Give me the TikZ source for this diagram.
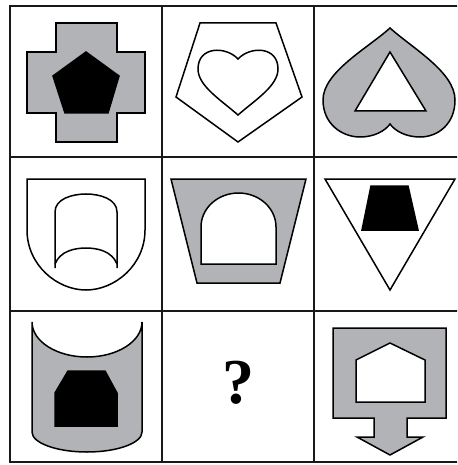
\documentclass[tikz,border=0pt]{standalone}
\usepackage{fontspec}
\newfontfamily\qfont{Liberation Serif}
\usetikzlibrary{calc}
\definecolor{shapegray}{RGB}{178,179,183}
\tikzset{
  gridline/.style={line width=2pt, draw=black!90},
  outl/.style={line width=1.5pt, draw=black, line join=miter},
  grayshape/.style={outl, fill=shapegray},
  whiteshape/.style={outl, fill=white},
  blackshape/.style={outl, fill=black},
}
\begin{document}
\begin{tikzpicture}[x=1pt, y=-1pt]
\useasboundingbox (0,0) rectangle (457,465);
\clip (0,0) rectangle (457,465);
\fill[white] (0,0) rectangle (457,465);
% grid
\draw[gridline] (10,6) rectangle (466,462);
\draw[gridline] (162,6) -- (162,462);
\draw[gridline] (314,6) -- (314,462);
\draw[gridline] (10,157) -- (466,157);
\draw[gridline] (10,311) -- (466,311);
% cell 1: cross with pentagon
\draw[grayshape] (56,23) -- (117,23) -- (117,52) -- (145,52) -- (145,113) -- (117,113) -- (117,142) -- (56,142) -- (56,113) -- (27,113) -- (27,52) -- (56,52) -- cycle;
\draw[blackshape] (86,52) -- (119,76) -- (108,113) -- (65,113) -- (53,76) -- cycle;
% cell 2: pentagon with heart
\draw[whiteshape] (200,23) -- (276,23) -- (302,97) -- (238,142) -- (176,97) -- cycle;
\draw[whiteshape] (238,59) .. controls (250,46) and (278,46) .. (278,69) .. controls (278,86) and (255,100) .. (238,115) .. controls (221,100) and (198,86) .. (198,69) .. controls (198,46) and (226,46) .. (238,59) -- cycle;
% cell 3: inverted heart with triangle
\draw[grayshape] (390,28) .. controls (368,48) and (323,72) .. (323,100) .. controls (323,124) and (342,137) .. (360,137) .. controls (374,137) and (385,131) .. (390,124) .. controls (395,131) and (406,137) .. (420,137) .. controls (438,137) and (455,124) .. (455,100) .. controls (455,72) and (412,48) .. (390,28) -- cycle;
\draw[whiteshape] (390,52) -- (426,111) -- (355,111) -- cycle;
% cell 4: shield with scroll
\draw[whiteshape] (27,179) -- (145,179) -- (145,230) .. controls (145,265) and (115,290) .. (86,290) .. controls (57,290) and (27,265) .. (27,230) -- cycle;
\draw[outl] (55,268) -- (55,212) .. controls (55,199) and (72,194) .. (86,194) .. controls (100,194) and (117,199) .. (117,212) -- (117,268);
\draw[outl] (55,264) .. controls (60,251) and (75,248) .. (86,248) .. controls (97,248) and (112,251) .. (117,264);
% cell 5: trapezoid with arch
\draw[grayshape] (171,179) -- (306,179) -- (280,283) -- (197,283) -- cycle;
\draw[whiteshape] (201,264) -- (201,227) .. controls (201,208.2) and (217.8,193) .. (238.5,193) .. controls (259.2,193) and (276,208.2) .. (276,227) -- (276,264) -- cycle;
% cell 6: inverted triangle with trapezoid
\draw[whiteshape] (325,179) -- (455,179) -- (390,290) -- cycle;
\draw[blackshape] (371,186) -- (408,186) -- (418,230) -- (362,230) -- cycle;
% cell 7: cylinder with hexagon
\draw[grayshape] (32,322) .. controls (32,341.3) and (56.6,357) .. (87,357) .. controls (117.4,357) and (142,341.3) .. (142,322) -- (142,432) .. controls (142,443) and (117.4,452) .. (87,452) .. controls (56.6,452) and (32,443) .. (32,432) -- cycle;
\draw[blackshape] (68,371) -- (105,371) -- (117,393) -- (117,426) -- (55,426) -- (55,393) -- cycle;
% cell 8: question mark
\node[font=\qfont\fontsize{64}{64}\selectfont\bfseries] (q) at (238,383) {?};
% cell 9: box with arrow and house
\draw[grayshape] (333,328) -- (446,328) -- (446,418) -- (407,418) -- (407,437) -- (423,437) -- (390,455) -- (357,437) -- (374,437) -- (374,418) -- (333,418) -- cycle;
\draw[whiteshape] (356,402) -- (356,360) -- (390,343) -- (425,360) -- (425,402) -- cycle;
\end{tikzpicture}
\end{document}
